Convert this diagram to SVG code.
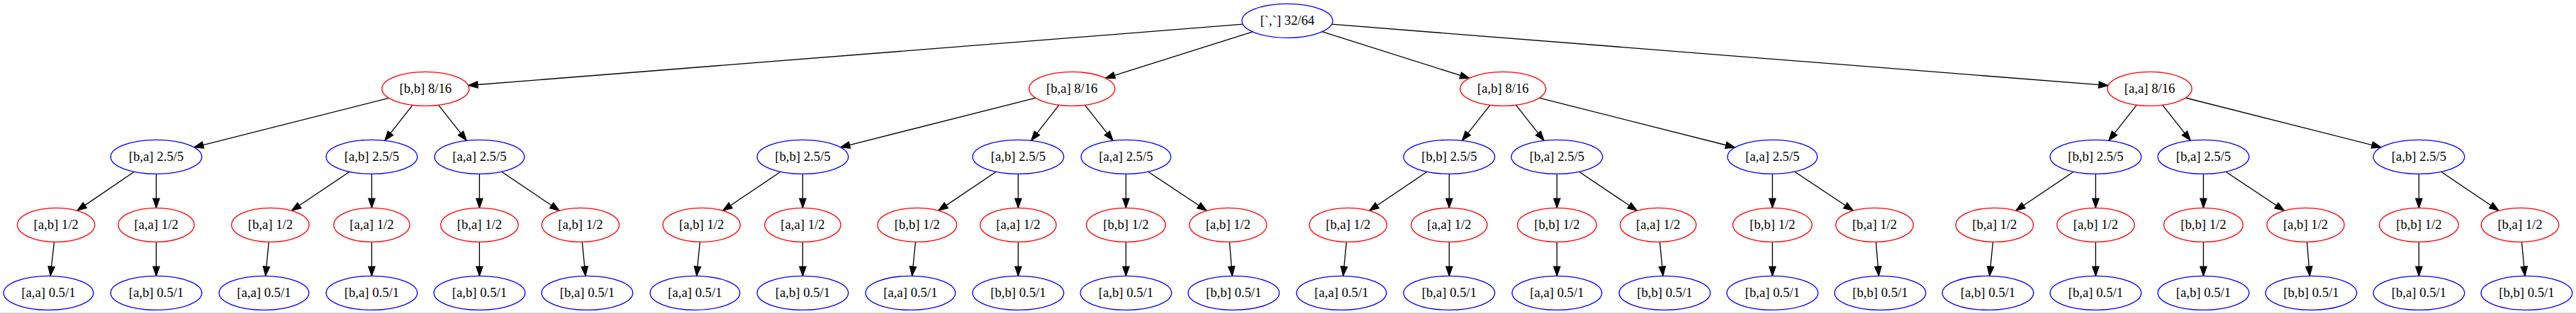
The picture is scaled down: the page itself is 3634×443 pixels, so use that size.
<svg xmlns="http://www.w3.org/2000/svg" width="3634" height="443" viewBox="0 0 3634 443">
<style>
  .r { fill: #ffffff; stroke: #ff0000; stroke-width: 1.33; }
  .b { fill: #ffffff; stroke: #0000ff; stroke-width: 1.33; }
  text { font-family: "Liberation Serif", "Times New Roman", serif; font-size: 18.67px; text-anchor: middle; fill: #000000; }
  #edges path { fill: none; stroke: #000000; stroke-width: 1.33; marker-end: url(#arr); }
</style>
<defs>
  <marker id="arr" markerUnits="userSpaceOnUse" viewBox="-1 -1 15.5 11.5" markerWidth="15.5" markerHeight="11.5" refX="13.3" refY="4.67" orient="auto">
    <path d="M0,0 L13.3,4.67 L0,9.33 Z" fill="#000000" stroke="#000000" stroke-width="1.2"/>
  </marker>
</defs>
<rect x="0" y="0" width="3634" height="443" fill="#ffffff"/>
<rect x="0" y="441.3" width="3634" height="1.7" fill="#c4c4c4"/>
<g id="edges">
  <path d="M1753.4,34.2 L660.6,120.5"/>
  <path d="M1767.1,44.8 L1559.5,110.3"/>
  <path d="M1865.0,44.7 L2073.0,110.4"/>
  <path d="M1878.6,34.2 L2974.2,120.7"/>
  <path d="M548.7,138.3 L273.6,207.8"/>
  <path d="M582.1,148.2 L542.7,198.3"/>
  <path d="M618.5,148.2 L658.2,198.3"/>
  <path d="M1461.2,138.2 L1185.6,207.8"/>
  <path d="M1494.0,148.2 L1454.7,198.3"/>
  <path d="M1530.4,148.2 L1570.1,198.3"/>
  <path d="M2102.2,148.2 L2062.6,198.3"/>
  <path d="M2138.5,148.2 L2178.2,198.3"/>
  <path d="M2171.3,138.2 L2447.7,208.0"/>
  <path d="M3014.3,148.1 L2974.8,198.3"/>
  <path d="M3050.7,148.2 L3090.2,198.3"/>
  <path d="M3083.0,138.0 L3359.2,207.8"/>
  <path d="M189.4,242.3 L108.8,297.1"/>
  <path d="M493.2,242.3 L411.3,297.2"/>
  <path d="M707.5,242.2 L789.1,297.2"/>
  <path d="M1101.2,242.3 L1019.6,297.2"/>
  <path d="M1405.3,242.3 L1323.8,297.1"/>
  <path d="M1619.7,242.2 L1702.4,297.3"/>
  <path d="M2013.2,242.3 L1931.7,297.2"/>
  <path d="M2227.6,242.3 L2309.5,297.3"/>
  <path d="M2531.7,242.2 L2614.4,297.3"/>
  <path d="M2925.3,242.3 L2843.6,297.2"/>
  <path d="M3139.8,242.2 L3222.5,297.3"/>
  <path d="M3443.6,242.3 L3525.1,297.2"/>
  <path d="M220.4,245.3 L220.4,293.3"/>
  <path d="M524.4,245.3 L524.4,293.3"/>
  <path d="M676.4,245.3 L676.4,293.3"/>
  <path d="M1132.4,245.3 L1132.4,293.3"/>
  <path d="M1436.4,245.3 L1436.4,293.3"/>
  <path d="M1588.4,245.3 L1588.4,293.3"/>
  <path d="M2044.4,245.3 L2044.4,293.3"/>
  <path d="M2196.4,245.3 L2196.4,293.3"/>
  <path d="M2500.4,245.3 L2500.4,293.3"/>
  <path d="M2956.4,245.3 L2956.4,293.3"/>
  <path d="M3108.4,245.3 L3108.4,293.3"/>
  <path d="M3412.4,245.3 L3412.4,293.3"/>
  <path d="M76.4,341.3 L71.1,389.3"/>
  <path d="M379.2,341.3 L374.6,389.3"/>
  <path d="M821.3,341.3 L826.0,389.3"/>
  <path d="M987.4,341.3 L982.7,389.3"/>
  <path d="M1291.5,341.3 L1286.7,389.3"/>
  <path d="M1734.5,341.3 L1738.4,389.3"/>
  <path d="M1899.5,341.3 L1894.8,389.3"/>
  <path d="M2341.5,341.3 L2346.1,389.3"/>
  <path d="M2646.5,341.3 L2650.4,389.3"/>
  <path d="M2811.5,341.3 L2806.7,389.3"/>
  <path d="M3254.5,341.3 L3258.4,389.3"/>
  <path d="M3557.4,341.3 L3562.0,389.3"/>
  <path d="M220.4,341.3 L220.4,389.3"/>
  <path d="M524.4,341.3 L524.4,389.3"/>
  <path d="M676.4,341.3 L676.4,389.3"/>
  <path d="M1132.4,341.3 L1132.4,389.3"/>
  <path d="M1436.4,341.3 L1436.4,389.3"/>
  <path d="M1588.4,341.3 L1588.4,389.3"/>
  <path d="M2044.4,341.3 L2044.4,389.3"/>
  <path d="M2196.4,341.3 L2196.4,389.3"/>
  <path d="M2500.4,341.3 L2500.4,389.3"/>
  <path d="M2956.4,341.3 L2956.4,389.3"/>
  <path d="M3108.4,341.3 L3108.4,389.3"/>
  <path d="M3412.4,341.3 L3412.4,389.3"/>
</g>
<g id="root"><ellipse class="b" cx="1816" cy="29.3" rx="64" ry="24"/><text x="1816" y="35.3">[`,`] 32/64</text></g>
<g id="l1_0"><ellipse class="r" cx="600.3" cy="125.3" rx="61.5" ry="24"/><text x="600.3" y="131.3">[b,b] 8/16</text></g>
<g id="l1_1"><ellipse class="r" cx="1512.2" cy="125.3" rx="60.5" ry="24"/><text x="1512.2" y="131.3">[b,a] 8/16</text></g>
<g id="l1_2"><ellipse class="r" cx="2120.3" cy="125.3" rx="60.5" ry="24"/><text x="2120.3" y="131.3">[a,b] 8/16</text></g>
<g id="l1_3"><ellipse class="r" cx="3032.6" cy="125.3" rx="59.5" ry="24"/><text x="3032.6" y="131.3">[a,a] 8/16</text></g>
<g id="l2_0"><ellipse class="b" cx="220.4" cy="221.3" rx="64.3" ry="24"/><text x="220.4" y="227.3">[b,a] 2.5/5</text></g>
<g id="l2_1"><ellipse class="b" cx="524.4" cy="221.3" rx="64.3" ry="24"/><text x="524.4" y="227.3">[a,b] 2.5/5</text></g>
<g id="l2_2"><ellipse class="b" cx="676.4" cy="221.3" rx="63.3" ry="24"/><text x="676.4" y="227.3">[a,a] 2.5/5</text></g>
<g id="l2_3"><ellipse class="b" cx="1132.4" cy="221.3" rx="64.3" ry="24"/><text x="1132.4" y="227.3">[b,b] 2.5/5</text></g>
<g id="l2_4"><ellipse class="b" cx="1436.4" cy="221.3" rx="64.3" ry="24"/><text x="1436.4" y="227.3">[a,b] 2.5/5</text></g>
<g id="l2_5"><ellipse class="b" cx="1588.4" cy="221.3" rx="63.3" ry="24"/><text x="1588.4" y="227.3">[a,a] 2.5/5</text></g>
<g id="l2_6"><ellipse class="b" cx="2044.4" cy="221.3" rx="64.3" ry="24"/><text x="2044.4" y="227.3">[b,b] 2.5/5</text></g>
<g id="l2_7"><ellipse class="b" cx="2196.4" cy="221.3" rx="64.3" ry="24"/><text x="2196.4" y="227.3">[b,a] 2.5/5</text></g>
<g id="l2_8"><ellipse class="b" cx="2500.4" cy="221.3" rx="63.3" ry="24"/><text x="2500.4" y="227.3">[a,a] 2.5/5</text></g>
<g id="l2_9"><ellipse class="b" cx="2956.4" cy="221.3" rx="64.3" ry="24"/><text x="2956.4" y="227.3">[b,b] 2.5/5</text></g>
<g id="l2_10"><ellipse class="b" cx="3108.4" cy="221.3" rx="64.3" ry="24"/><text x="3108.4" y="227.3">[b,a] 2.5/5</text></g>
<g id="l2_11"><ellipse class="b" cx="3412.4" cy="221.3" rx="64.3" ry="24"/><text x="3412.4" y="227.3">[a,b] 2.5/5</text></g>
<g id="l3_0"><ellipse class="r" cx="79.1" cy="317.3" rx="54.6" ry="24"/><text x="79.1" y="323.3">[a,b] 1/2</text></g>
<g id="l3_1"><ellipse class="r" cx="220.4" cy="317.3" rx="53.6" ry="24"/><text x="220.4" y="323.3">[a,a] 1/2</text></g>
<g id="l3_2"><ellipse class="r" cx="381.4" cy="317.3" rx="54.7" ry="24"/><text x="381.4" y="323.3">[b,a] 1/2</text></g>
<g id="l3_3"><ellipse class="r" cx="524.4" cy="317.3" rx="53.6" ry="24"/><text x="524.4" y="323.3">[a,a] 1/2</text></g>
<g id="l3_4"><ellipse class="r" cx="676.4" cy="317.3" rx="54.7" ry="24"/><text x="676.4" y="323.3">[b,a] 1/2</text></g>
<g id="l3_5"><ellipse class="r" cx="818.9" cy="317.3" rx="54.6" ry="24"/><text x="818.9" y="323.3">[a,b] 1/2</text></g>
<g id="l3_6"><ellipse class="r" cx="989.7" cy="317.3" rx="54.6" ry="24"/><text x="989.7" y="323.3">[a,b] 1/2</text></g>
<g id="l3_7"><ellipse class="r" cx="1132.4" cy="317.3" rx="53.6" ry="24"/><text x="1132.4" y="323.3">[a,a] 1/2</text></g>
<g id="l3_8"><ellipse class="r" cx="1293.8" cy="317.3" rx="55.8" ry="24"/><text x="1293.8" y="323.3">[b,b] 1/2</text></g>
<g id="l3_9"><ellipse class="r" cx="1436.4" cy="317.3" rx="53.6" ry="24"/><text x="1436.4" y="323.3">[a,a] 1/2</text></g>
<g id="l3_10"><ellipse class="r" cx="1588.4" cy="317.3" rx="55.8" ry="24"/><text x="1588.4" y="323.3">[b,b] 1/2</text></g>
<g id="l3_11"><ellipse class="r" cx="1732.5" cy="317.3" rx="54.6" ry="24"/><text x="1732.5" y="323.3">[a,b] 1/2</text></g>
<g id="l3_12"><ellipse class="r" cx="1901.8" cy="317.3" rx="54.7" ry="24"/><text x="1901.8" y="323.3">[b,a] 1/2</text></g>
<g id="l3_13"><ellipse class="r" cx="2044.4" cy="317.3" rx="53.6" ry="24"/><text x="2044.4" y="323.3">[a,a] 1/2</text></g>
<g id="l3_14"><ellipse class="r" cx="2196.4" cy="317.3" rx="55.8" ry="24"/><text x="2196.4" y="323.3">[b,b] 1/2</text></g>
<g id="l3_15"><ellipse class="r" cx="2339.2" cy="317.3" rx="53.6" ry="24"/><text x="2339.2" y="323.3">[a,a] 1/2</text></g>
<g id="l3_16"><ellipse class="r" cx="2500.4" cy="317.3" rx="55.8" ry="24"/><text x="2500.4" y="323.3">[b,b] 1/2</text></g>
<g id="l3_17"><ellipse class="r" cx="2644.5" cy="317.3" rx="54.7" ry="24"/><text x="2644.5" y="323.3">[b,a] 1/2</text></g>
<g id="l3_18"><ellipse class="r" cx="2813.8" cy="317.3" rx="54.7" ry="24"/><text x="2813.8" y="323.3">[b,a] 1/2</text></g>
<g id="l3_19"><ellipse class="r" cx="2956.4" cy="317.3" rx="54.6" ry="24"/><text x="2956.4" y="323.3">[a,b] 1/2</text></g>
<g id="l3_20"><ellipse class="r" cx="3108.4" cy="317.3" rx="55.8" ry="24"/><text x="3108.4" y="323.3">[b,b] 1/2</text></g>
<g id="l3_21"><ellipse class="r" cx="3252.5" cy="317.3" rx="54.6" ry="24"/><text x="3252.5" y="323.3">[a,b] 1/2</text></g>
<g id="l3_22"><ellipse class="r" cx="3412.4" cy="317.3" rx="55.8" ry="24"/><text x="3412.4" y="323.3">[b,b] 1/2</text></g>
<g id="l3_23"><ellipse class="r" cx="3555" cy="317.3" rx="54.7" ry="24"/><text x="3555" y="323.3">[b,a] 1/2</text></g>
<g id="l4_0"><ellipse class="b" cx="68.4" cy="413.3" rx="63.3" ry="24"/><text x="68.4" y="419.3">[a,a] 0.5/1</text></g>
<g id="l4_1"><ellipse class="b" cx="220.4" cy="413.3" rx="64.3" ry="24"/><text x="220.4" y="419.3">[a,b] 0.5/1</text></g>
<g id="l4_2"><ellipse class="b" cx="372.4" cy="413.3" rx="63.3" ry="24"/><text x="372.4" y="419.3">[a,a] 0.5/1</text></g>
<g id="l4_3"><ellipse class="b" cx="524.4" cy="413.3" rx="64.3" ry="24"/><text x="524.4" y="419.3">[b,a] 0.5/1</text></g>
<g id="l4_4"><ellipse class="b" cx="676.4" cy="413.3" rx="64.3" ry="24"/><text x="676.4" y="419.3">[a,b] 0.5/1</text></g>
<g id="l4_5"><ellipse class="b" cx="828.4" cy="413.3" rx="64.3" ry="24"/><text x="828.4" y="419.3">[b,a] 0.5/1</text></g>
<g id="l4_6"><ellipse class="b" cx="980.4" cy="413.3" rx="63.3" ry="24"/><text x="980.4" y="419.3">[a,a] 0.5/1</text></g>
<g id="l4_7"><ellipse class="b" cx="1132.4" cy="413.3" rx="64.3" ry="24"/><text x="1132.4" y="419.3">[a,b] 0.5/1</text></g>
<g id="l4_8"><ellipse class="b" cx="1284.4" cy="413.3" rx="63.3" ry="24"/><text x="1284.4" y="419.3">[a,a] 0.5/1</text></g>
<g id="l4_9"><ellipse class="b" cx="1436.4" cy="413.3" rx="64.3" ry="24"/><text x="1436.4" y="419.3">[b,b] 0.5/1</text></g>
<g id="l4_10"><ellipse class="b" cx="1588.4" cy="413.3" rx="64.3" ry="24"/><text x="1588.4" y="419.3">[a,b] 0.5/1</text></g>
<g id="l4_11"><ellipse class="b" cx="1740.4" cy="413.3" rx="64.3" ry="24"/><text x="1740.4" y="419.3">[b,b] 0.5/1</text></g>
<g id="l4_12"><ellipse class="b" cx="1892.4" cy="413.3" rx="63.3" ry="24"/><text x="1892.4" y="419.3">[a,a] 0.5/1</text></g>
<g id="l4_13"><ellipse class="b" cx="2044.4" cy="413.3" rx="64.3" ry="24"/><text x="2044.4" y="419.3">[b,a] 0.5/1</text></g>
<g id="l4_14"><ellipse class="b" cx="2196.4" cy="413.3" rx="63.3" ry="24"/><text x="2196.4" y="419.3">[a,a] 0.5/1</text></g>
<g id="l4_15"><ellipse class="b" cx="2348.4" cy="413.3" rx="64.3" ry="24"/><text x="2348.4" y="419.3">[b,b] 0.5/1</text></g>
<g id="l4_16"><ellipse class="b" cx="2500.4" cy="413.3" rx="64.3" ry="24"/><text x="2500.4" y="419.3">[b,a] 0.5/1</text></g>
<g id="l4_17"><ellipse class="b" cx="2652.4" cy="413.3" rx="64.3" ry="24"/><text x="2652.4" y="419.3">[b,b] 0.5/1</text></g>
<g id="l4_18"><ellipse class="b" cx="2804.4" cy="413.3" rx="64.3" ry="24"/><text x="2804.4" y="419.3">[a,b] 0.5/1</text></g>
<g id="l4_19"><ellipse class="b" cx="2956.4" cy="413.3" rx="64.3" ry="24"/><text x="2956.4" y="419.3">[b,a] 0.5/1</text></g>
<g id="l4_20"><ellipse class="b" cx="3108.4" cy="413.3" rx="64.3" ry="24"/><text x="3108.4" y="419.3">[a,b] 0.5/1</text></g>
<g id="l4_21"><ellipse class="b" cx="3260.4" cy="413.3" rx="64.3" ry="24"/><text x="3260.4" y="419.3">[b,b] 0.5/1</text></g>
<g id="l4_22"><ellipse class="b" cx="3412.4" cy="413.3" rx="64.3" ry="24"/><text x="3412.4" y="419.3">[b,a] 0.5/1</text></g>
<g id="l4_23"><ellipse class="b" cx="3564.4" cy="413.3" rx="64.3" ry="24"/><text x="3564.4" y="419.3">[b,b] 0.5/1</text></g>
</svg>
